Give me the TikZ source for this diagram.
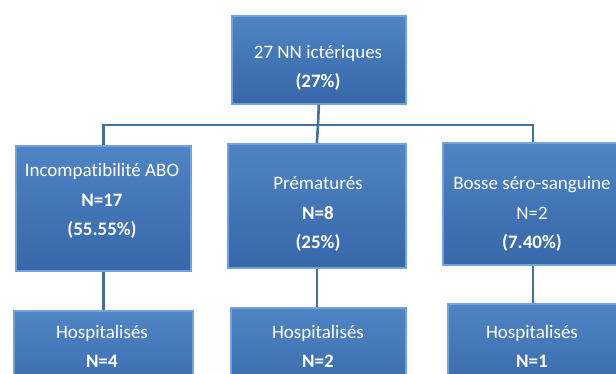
\documentclass[tikz,border=0pt]{standalone}
\usepackage{fontspec}
\setmainfont[Ligatures=NoCommon]{Carlito}
\usetikzlibrary{shadows}
\definecolor{boxtop}{HTML}{4F84C5}
\definecolor{boxbot}{HTML}{3767A8}
\definecolor{boxedge}{HTML}{72A2DA}
\definecolor{linkc}{HTML}{41709F}
\tikzset{
  box/.style={draw=boxedge, line width=1.6pt, top color=boxtop, bottom color=boxbot,
    anchor=north west, inner sep=0pt, drop shadow={shadow xshift=1.5pt, shadow yshift=-1.5pt, opacity=0.35}},
  lbl/.style={text=white, font=\fontsize{19}{29.5}\selectfont, align=center, inner sep=0pt},
  link/.style={draw=linkc, line width=2.6pt}
}
\begin{document}
\begin{tikzpicture}[x=1pt,y=-1pt]
\useasboundingbox (0,0) rectangle (616,374);
\clip (0,0) rectangle (616,374);
% boxes
\node[box, minimum width=174pt, minimum height=88pt] (top) at (231,15) {};
\node[box, minimum width=175pt, minimum height=125pt] (b1) at (15,145) {};
\node[box, minimum width=178pt, minimum height=124pt] (b2) at (227,143) {};
\node[box, minimum width=180pt, minimum height=122pt] (b3) at (442,142) {};
\node[box, minimum width=179pt, minimum height=100pt] (h1) at (13,310) {};
\node[box, minimum width=175pt, minimum height=100pt] (h2) at (230,307) {};
\node[box, minimum width=180pt, minimum height=100pt] (h3) at (447,303) {};
% connectors
\coordinate (j) at (318,125);
\draw[link] (top.south) -- (j);
\draw[link] (j) -| (b1.north);
\draw[link] (j) -- (b2.north);
\draw[link] (j) -| (b3.north);
\draw[link] (b1.south) -- (h1.north -| b1.south);
\draw[link] (b2.south) -- (h2.north -| b2.south);
\draw[link] (b3.south) -- (h3.north -| b3.south);
% texts
\node[lbl] (t0) at (318,68) {27 NN ictériques\\\textbf{(27\%)}};
\node[lbl] (t1) at (102,201) {Incompatibilité ABO\\\textbf{N=17}\\\textbf{(55.55\%)}};
\node[lbl] (t2) at (318,214) {Prématurés\\\textbf{N=8}\\\textbf{(25\%)}};
\node[lbl] (t3) at (532,214) {Bosse séro-sanguine\\N=2\\\textbf{(7.40\%)}};
\node[lbl, anchor=north] (t4) at (102,325) {Hospitalisés\\\textbf{N=4}};
\node[lbl, anchor=north] (t5) at (318,325) {Hospitalisés\\\textbf{N=2}};
\node[lbl, anchor=north] (t6) at (532,325) {Hospitalisés\\\textbf{N=1}};
\end{tikzpicture}
\end{document}
